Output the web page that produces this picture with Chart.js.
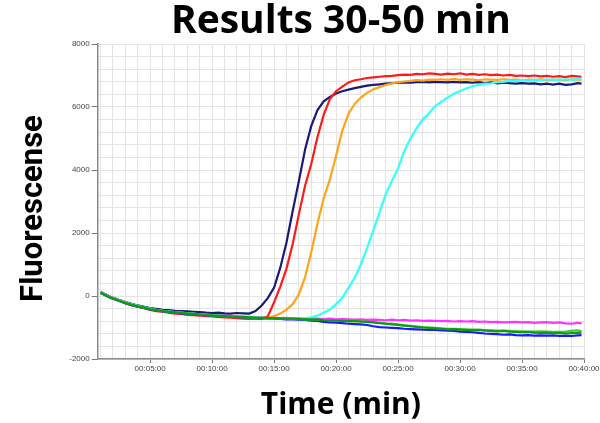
<!DOCTYPE html>
<html>
<head>
<meta charset="utf-8">
<script src="https://cdn.jsdelivr.net/npm/chart.js@4"></script>
<style>
html,body{margin:0;padding:0;background:#fff;}
#c{display:block;}
</style>
</head>
<body>
<canvas id="c" width="600" height="423"></canvas>
<script>
const TIME_MIN = [1,1.5,2,2.5,3,3.5,4,4.5,5,5.5,6,6.5,7,7.5,8,8.5,9,9.5,10,10.5,11,11.5,12,12.5,13,13.5,14,14.5,15,15.5,16,16.5,17,17.5,18,18.5,19,19.5,20,20.5,21,21.5,22,22.5,23,23.5,24,24.5,25,25.5,26,26.5,27,27.5,28,28.5,29,29.5,30,30.5,31,31.5,32,32.5,33,33.5,34,34.5,35,35.5,36,36.5,37,37.5,38,38.5,39,39.5,39.8];

const NAVY = [120,30,-60,-130,-190,-250,-300,-340,-380,-410,-440,-450,-470,-480,-490,-500,-510,-530,-540,-530,-550,-560,-540,-550,-560,
-480,-300,-60,270,900,1700,2700,3650,4650,5400,5900,6180,6320,6430,6500,6550,6600,6640,6680,6700,6720,6740,6760,6770,6780,6770,6790,6800,6780,6800,6790,6780,6800,6780,6790,6770,6790,6760,6780,6750,6770,6760,6740,6760,6740,6750,6720,6740,6710,6740,6700,6720,6760,6740];

const RED = [100,10,-80,-150,-230,-290,-340,-390,-440,-480,-500,-530,-560,-570,-600,-610,-620,-640,-650,-660,-680,-690,-700,-720,-730,
-720,-720,-640,-200,300,870,1650,2600,3500,4200,5050,5750,6250,6500,6650,6780,6850,6880,6920,6940,6960,6980,6990,7010,7030,7020,7050,7040,7070,7050,7030,7060,7040,7070,7030,7050,7020,7040,7010,7030,7000,7020,6990,7000,6980,7000,6970,6990,6960,6980,6950,6990,6970,6960];

const ORANGE = [100,10,-70,-140,-210,-270,-320,-370,-410,-450,-480,-500,-520,-540,-560,-570,-590,-600,-620,-630,-640,-650,-660,-670,-680,
-690,-700,-690,-640,-560,-430,-260,50,600,1400,2300,3100,3700,4450,5250,5780,6100,6300,6450,6560,6630,6700,6750,6790,6810,6830,6850,6840,6870,6860,6880,6860,6890,6860,6880,6870,6850,6880,6870,6860,6880,6860,6870,6850,6870,6860,6880,6850,6870,6860,6850,6880,6870,6860];

const CYAN = [110,20,-70,-140,-200,-260,-310,-360,-400,-440,-470,-490,-510,-530,-550,-560,-580,-590,-610,-620,-630,-640,-650,-660,-670,
-680,-690,-700,-700,-710,-710,-720,-720,-700,-680,-620,-530,-430,-260,-60,260,580,1000,1520,2080,2650,3230,3650,4050,4600,5000,5330,5610,5800,6030,6170,6300,6420,6510,6590,6660,6700,6740,6750,6790,6800,6830,6820,6850,6840,6870,6850,6880,6860,6870,6880,6860,6890,6880];

const MAGENTA = [130,30,-60,-130,-200,-260,-310,-350,-400,-430,-460,-480,-500,-510,-530,-550,-560,-580,-590,-600,-610,-630,-640,-650,-660,
-670,-680,-690,-690,-700,-690,-710,-700,-720,-710,-720,-730,-720,-740,-730,-740,-750,-740,-760,-750,-760,-770,-750,-770,-760,-780,-770,-790,-780,-790,-800,-790,-810,-800,-810,-800,-820,-810,-830,-820,-840,-830,-820,-840,-830,-850,-840,-830,-850,-840,-870,-880,-850,-870];

const GREEN = [100,0,-80,-150,-220,-280,-330,-370,-420,-450,-480,-500,-520,-540,-560,-570,-590,-600,-620,-630,-640,-650,-660,-670,-680,
-690,-700,-700,-700,-710,-720,-720,-730,-740,-750,-750,-770,-780,-780,-790,-800,-800,-810,-820,-840,-860,-880,-900,-920,-940,-960,-980,-1000,-1010,-1030,-1040,-1060,-1050,-1070,-1080,-1090,-1080,-1100,-1110,-1120,-1110,-1130,-1140,-1150,-1140,-1160,-1170,-1160,-1180,-1170,-1190,-1180,-1170,-1160];

const LIME = [110,10,-70,-150,-210,-270,-330,-370,-410,-440,-470,-500,-520,-530,-550,-570,-580,-600,-610,-620,-640,-650,-660,-670,-680,
-690,-690,-700,-710,-710,-720,-730,-730,-740,-740,-760,-760,-770,-780,-790,-790,-800,-810,-820,-830,-850,-870,-880,-900,-930,-950,-970,-990,-1000,-1010,-1030,-1040,-1040,-1050,-1060,-1070,-1070,-1080,-1090,-1100,-1100,-1110,-1120,-1120,-1130,-1130,-1120,-1130,-1140,-1140,-1130,-1110,-1090,-1110];

const BLUE = [100,0,-90,-160,-230,-290,-340,-380,-430,-460,-490,-510,-530,-550,-570,-580,-600,-610,-630,-640,-650,-660,-670,-680,-690,
-700,-710,-710,-720,-730,-740,-740,-750,-760,-780,-790,-820,-840,-850,-860,-880,-890,-900,-920,-960,-990,-1000,-1010,-1020,-1040,-1050,-1060,-1070,-1080,-1080,-1090,-1100,-1110,-1130,-1140,-1150,-1170,-1190,-1200,-1210,-1230,-1220,-1240,-1250,-1240,-1260,-1250,-1260,-1250,-1270,-1260,-1270,-1250,-1240];

const SERIES = [
  {name:'Green', values:GREEN, color:'#129912'},
  {name:'Lime', values:LIME, color:'#3ccc3c'},
  {name:'Blue', values:BLUE, color:'#1a1aff'},
  {name:'Cyan', values:CYAN, color:'#33ffff'},
  {name:'Orange', values:ORANGE, color:'#ffa31a'},
  {name:'Red', values:RED, color:'#ff1a1a'},
  {name:'Navy', values:NAVY, color:'#1a1a7a'},
  {name:'Magenta', values:MAGENTA, color:'#ff33ff'}
];

const X_MIN = 0.77, X_MAX = 40;
const Y_MIN = -2000, Y_MAX = 8000;
const TITLE = 'Results 30-50 min';
const X_TITLE = 'Time (min)';
const Y_TITLE = 'Fluorescense \u2009';

function fmtTime(v){ const m = String(v).padStart(2,'0'); return '00:' + m + ':00'; }

const datasets = SERIES.map(s => ({
  label: s.name,
  data: TIME_MIN.map((t,i) => ({x:t, y:s.values[i]})),
  borderColor: s.color,
  backgroundColor: s.color,
  borderWidth: 2.2,
  pointRadius: 0,
  tension: 0,
  fill: false
}));

new Chart(document.getElementById('c'), {
  type: 'line',
  data: { datasets },
  options: {
    responsive: false,
    animation: false,
    events: [],
    layout: { padding: { left: 0, right: 16, top: 0, bottom: 0 } },
    plugins: {
      legend: { display: false },
      tooltip: { enabled: false },
      title: {
        display: true,
        text: TITLE,
        fullSize: false,
        color: '#000',
        font: { family: "'Open Sans'", weight: 'bold', size: 39, lineHeight: 1.0 },
        padding: { top: 2, bottom: 3 }
      }
    },
    scales: {
      x: {
        type: 'linear',
        min: X_MIN, max: X_MAX,
        afterBuildTicks: (scale) => {
          const t = [];
          for (let m = 1; m <= X_MAX; m++) t.push({ value: m });
          scale.ticks = t;
        },
        afterFit: (scale) => { scale.height = 64; scale.paddingRight = 0; scale.paddingLeft = 0; },
        ticks: {
          autoSkip: false, maxRotation: 0, minRotation: 0, padding: 1,
          color: '#444',
          font: { family: "'Liberation Sans'", size: 8 },
          callback: (v) => (v % 5 === 0 ? fmtTime(v) : '')
        },
        grid: {
          color: '#e3e3e3', lineWidth: 1, tickLength: 4,
          tickColor: (ctx) => (ctx.tick && ctx.tick.value % 5 === 0 ? '#777' : 'rgba(0,0,0,0)')
        },
        border: { display: true, color: '#8a8a8a', width: 1.5 },
        title: {
          display: true, text: X_TITLE, color: '#000',
          font: { family: "'Open Sans'", weight: 'bold', size: 30, lineHeight: 1.2 },
          padding: { top: 0, bottom: 0 }
        }
      },
      y: {
        type: 'linear',
        min: Y_MIN, max: Y_MAX,
        afterFit: (scale) => { scale.width = 97.7; },
        ticks: {
          stepSize: 400, padding: 2, color: '#444',
          font: { family: "'Liberation Sans'", size: 8 },
          callback: (v) => (v % 2000 === 0 ? String(v) : '')
        },
        grid: {
          color: '#e3e3e3', lineWidth: 1, tickLength: 6,
          tickColor: (ctx) => (ctx.tick && ctx.tick.value % 2000 === 0 ? '#777' : 'rgba(0,0,0,0)')
        },
        border: { display: true, color: '#8a8a8a', width: 1.5 },
        title: {
          display: true, text: Y_TITLE, color: '#000',
          font: { family: "Roboto", weight: 'bold', size: 31, lineHeight: 1.2 },
          padding: { top: 16, bottom: 0 }
        }
      }
    }
  }
});
</script>
</body>
</html>
